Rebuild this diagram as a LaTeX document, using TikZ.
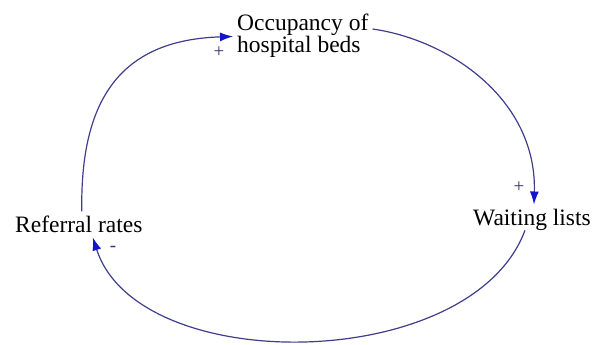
\documentclass[tikz,border=0pt]{standalone}
\usepackage{fontspec}
\setmainfont{Liberation Serif}
\usetikzlibrary{arrows.meta,calc}
\definecolor{linkblue}{RGB}{62,62,140}
\definecolor{headblue}{RGB}{20,20,205}
\begin{document}
\begin{tikzpicture}[x=1pt,y=-1pt,
  var/.style={inner sep=0pt,anchor=base west,align=left,font=\fontsize{23.5}{22}\selectfont},
  sign/.style={inner sep=0pt,font=\fontsize{19}{20}\selectfont,text=linkblue!80!black},
  link/.style={draw=linkblue,line width=1.2pt,-{Latex[length=13pt,width=9pt,color=headblue]}}]
\useasboundingbox (0,0) rectangle (594,345);
\node[var,anchor=north west] (occ) at (237,14) {Occupancy of\\hospital beds};
\node[var] (wait) at (473,225) {Waiting lists};
\node[var] (ref) at (15,232) {Referral rates};
\node[sign] (p1) at (219,52) {+};
\node[sign] (p2) at (519,187) {+};
\node[sign] (m1) at (113,249) {-};
\draw[link] ($(ref.north)+(3,-4)$) .. controls (80,100) and (120,40) .. ($(occ.west)+(-4,0.5)$);
\draw[link] ($(occ.north east)+(4,15)$) .. controls (450,40) and (537,100) .. ($(wait.north)+(2,-4)$);
\draw[link] ($(wait.south)+(-7,0)$) .. controls (472,374) and (138,378) .. ($(ref.south)+(14,5)$);
\end{tikzpicture}
\end{document}
